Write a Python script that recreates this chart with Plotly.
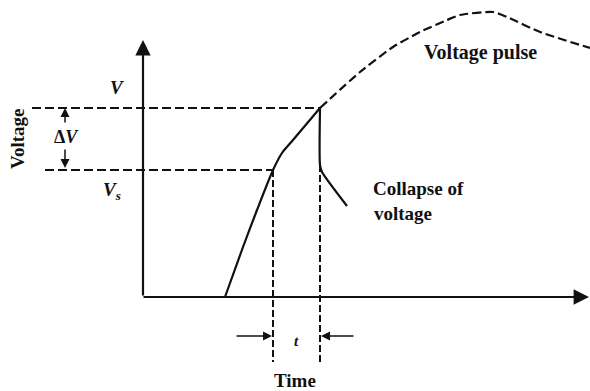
import plotly.graph_objects as go

# Schematic data in diagram units (time, voltage); origin at the axes corner
rise_time = [82, 100, 114, 130, 139, 150, 177]
rise_volt = [0, 50, 87, 127, 144, 157, 189]

pulse_time = [177, 217, 250, 277, 304, 317, 350, 364, 397, 447]
pulse_volt = [189, 225, 250, 265, 277, 282, 285, 280, 265, 249]

collapse_time = [177, 177, 179, 204]
collapse_volt = [189, 132, 125, 91]

V_level = 189
Vs_level = 127
t_start = 130   # time where voltage reaches Vs
t_end = 177     # time of collapse
guide_left_V = -111
guide_left_Vs = -98
guide_bottom = -65
x_axis_end = 446
y_axis_end = 257

INK = "#111111"
FONT = "Liberation Serif"
DASH = "9px,4px"

fig = go.Figure()

def line(x, y, dash="solid", width=2, shape="linear"):
    ln = dict(color=INK, width=width, dash=dash, shape=shape)
    if shape == "spline":
        ln["smoothing"] = 0.6
    fig.add_trace(go.Scatter(x=x, y=y, mode="lines", line=ln,
                             hoverinfo="skip", showlegend=False))

# rising edge (solid)
line(rise_time, rise_volt, width=2.2, shape="spline")
# voltage pulse continuation (dashed)
line(pulse_time, pulse_volt, dash=DASH, width=2.2, shape="spline")
# collapse of voltage (solid)
line(collapse_time, collapse_volt, width=2.2, shape="spline")
# horizontal guides
line([guide_left_V, t_end], [V_level, V_level], dash=DASH, width=2.2)
line([guide_left_Vs, t_start], [Vs_level, Vs_level], dash=DASH, width=2.2)
# vertical guides
line([t_start, t_start], [Vs_level, guide_bottom], dash="7px,3px", width=2)
line([t_end, t_end], [collapse_volt[1], guide_bottom], dash="7px,3px", width=2)

annotations = []

def arrow(x0, y0, x1, y1, width=2, size=1.0, head=2):
    annotations.append(dict(x=x1, y=y1, ax=x0, ay=y0, xref="x", yref="y",
                            axref="x", ayref="y", text="", showarrow=True,
                            arrowhead=head, arrowsize=size, arrowwidth=width,
                            arrowcolor=INK, standoff=0, startstandoff=0))

# axes with arrows
arrow(0, 0, 0, y_axis_end, width=2.2, size=1.4)
arrow(-1, 0, x_axis_end, 0, width=2.2, size=1.4)
# delta V arrows
dv_x = -78
arrow(dv_x, 173, dv_x, V_level, width=1.5, size=1.2)
arrow(dv_x, 149, dv_x, Vs_level + 2, width=1.5, size=1.2)
# t arrows
t_y = -39
arrow(92, t_y, t_start - 1, t_y, width=1.5, size=1.2)
arrow(212, t_y, t_end + 1, t_y, width=1.5, size=1.2)

def label(text, x, y, size=19, bold=False, italic=False, angle=0, xanchor="center"):
    t = text
    if bold:
        t = "<b>" + t + "</b>"
    if italic:
        t = "<i>" + t + "</i>"
    annotations.append(dict(x=x, y=y, xref="x", yref="y", text=t, showarrow=False,
                            textangle=angle, xanchor=xanchor, yanchor="middle",
                            font=dict(family=FONT, size=size, color=INK)))

label("Voltage pulse", 337, 245, size=20, bold=True)
label("Voltage", -126, 158, size=19, bold=True, angle=-90)
label("V", -26, 210, size=19, bold=True, italic=True)
label("V<sub>s</sub>", -31, 106, size=19, bold=True, italic=True)
label("Δ<i>V</i>", -77, 160, size=18, bold=True)
label("Collapse of", 228, 109, size=19, bold=True, xanchor="left")
label("voltage", 229, 84, size=19, bold=True, xanchor="left")
label("t", 153, -44, size=15, bold=True, italic=True)
label("Time", 152, -83, size=19, bold=True)

fig.update_layout(
    width=590, height=391,
    margin=dict(l=0, r=0, t=0, b=0),
    paper_bgcolor="white", plot_bgcolor="white",
    xaxis=dict(range=[-143, 447], visible=False, fixedrange=True),
    yaxis=dict(range=[-94, 297], visible=False, fixedrange=True),
    annotations=annotations,
    showlegend=False,
)

fig.write_html("out.html", config={"displayModeBar": False},
               post_script="document.body.style.margin='0';document.body.style.overflow='hidden';")
